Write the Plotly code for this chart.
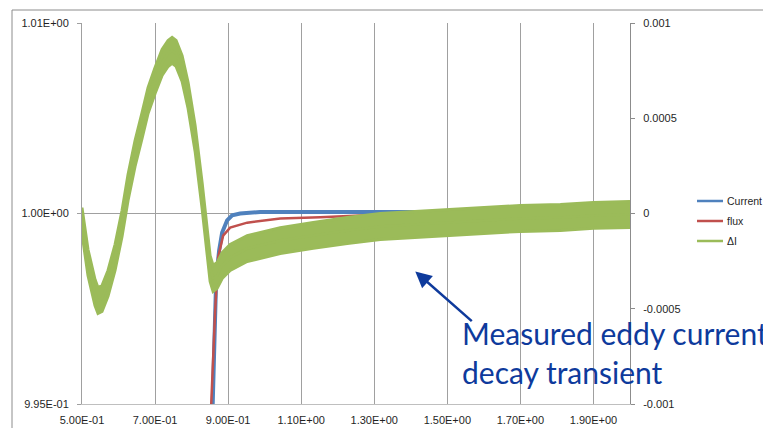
import plotly.graph_objects as go

# ---- data ----
dI_x = [0.5, 0.5164, 0.5356, 0.5438, 0.5548, 0.5712, 0.5904, 0.6096, 0.626, 0.6452,
        0.6644, 0.6808, 0.7, 0.7192, 0.7356, 0.7466, 0.7575, 0.774, 0.7904, 0.8096,
        0.8288, 0.8425, 0.8507, 0.8589, 0.8699, 0.8836, 0.9055, 0.9521, 1.0425, 1.1329,
        1.226, 1.3164, 1.4068, 1.5, 1.5904, 1.7, 1.8096, 1.9, 2.0]
dI_y = [-0.000037, -0.000257, -0.000415, -0.000457, -0.000446, -0.000367, -0.000231, -0.000052,
        0.000136, 0.000315, 0.000462, 0.000593, 0.000698, 0.000793, 0.00084, 0.000856, 0.00084,
        0.000761, 0.000619, 0.000394, 0.000094, -0.000157, -0.000289, -0.000341, -0.000325,
        -0.000273, -0.000231, -0.000184, -0.000142, -0.000115, -0.000089, -0.000068, -0.000058,
        -0.000047, -0.000037, -0.000026, -0.000021, -0.00001, -0.000005]
dI_noise = 0.000068  # half-width of the noisy band

cur_x = [0.852, 0.8562, 0.8616, 0.8671, 0.8753, 0.8836, 0.8973, 0.911, 0.9329, 0.9877, 1.3, 1.6, 2.0]
cur_y = [0.9930, 0.99457, 0.99693, 0.99824, 0.99903, 0.9995, 0.99982, 0.99995, 1.0, 1.00004,
         1.00004, 1.00004, 1.00004]

flux_x = [0.8507, 0.8534, 0.8589, 0.8644, 0.8726, 0.8863, 0.9055, 0.9521, 1.0425, 1.152,
          1.2616, 1.3712, 1.5082, 2.0]
flux_y = [0.9943, 0.99499, 0.99614, 0.99745, 0.99885, 0.99942, 0.99963, 0.99976, 0.99987,
          0.9999, 0.99995, 0.99997, 1.0, 1.0]

x_ticks = [0.5, 0.7, 0.9, 1.1, 1.3, 1.5, 1.7, 1.9]
x_ticktext = ["5.00E-01", "7.00E-01", "9.00E-01", "1.10E+00", "1.30E+00", "1.50E+00", "1.70E+00", "1.90E+00"]
y_ticks = [0.995, 1.0, 1.005]
y_ticktext = ["9.95E-01", "1.00E+00", "1.01E+00"]
y2_ticks = [-0.001, -0.0005, 0, 0.0005, 0.001]
y2_ticktext = ["-0.001", "-0.0005", "0", "0.0005", "0.001"]

legend_names = ["Current", "flux", "ΔI"]

BLUE = "#4F81BD"
RED = "#C0504D"
GREEN = "#9BBB59"
TXT = "#1F1F1F"
ANN = "#0E3A9C"
FONT = "Liberation Sans"
legend_colors = [BLUE, RED, GREEN]

fig = go.Figure()
fig.add_trace(go.Scatter(x=cur_x, y=cur_y, mode="lines", name="Current",
                         line=dict(color=BLUE, width=4), yaxis="y"))
fig.add_trace(go.Scatter(x=flux_x, y=flux_y, mode="lines", name="flux",
                         line=dict(color=RED, width=2.5), yaxis="y"))
upper = [v + dI_noise for v in dI_y]
lower = [v - dI_noise for v in dI_y]
fig.add_trace(go.Scatter(x=dI_x, y=upper, mode="lines", hoverinfo="skip",
                         line=dict(color=GREEN, width=3), yaxis="y2"))
fig.add_trace(go.Scatter(x=dI_x, y=lower, mode="lines", hoverinfo="skip",
                         line=dict(color=GREEN, width=3), fill="tonexty", fillcolor=GREEN, yaxis="y2"))
fig.add_trace(go.Scatter(x=dI_x, y=dI_y, mode="lines", name="ΔI",
                         line=dict(color=GREEN, width=2.5), yaxis="y2"))

W, H = 763, 428
L, R, T, B = 82, 133, 23, 24
pw, ph = W - L - R, H - T - B


def px(xp):
    return (xp - L) / pw


def py(yp):
    return (H - B - yp) / ph


fig.update_layout(
    width=W, height=H,
    margin=dict(l=L, r=R, t=T, b=B, autoexpand=False),
    paper_bgcolor="white", plot_bgcolor="white",
    font=dict(family=FONT, size=11, color=TXT),
    showlegend=False,
    xaxis=dict(range=[0.5, 2.0], tickvals=x_ticks, ticktext=x_ticktext,
               showgrid=True, gridcolor="#A0A0A0", gridwidth=1, zeroline=False,
               showline=True, linecolor="#BFBFBF", ticks="", ticklabelstandoff=6,
               tickfont=dict(size=11, color=TXT)),
    yaxis=dict(range=[0.995, 1.005], tickvals=y_ticks, ticktext=y_ticktext,
               showgrid=True, gridcolor="#A0A0A0", gridwidth=1, zeroline=False,
               showline=True, linecolor="#A0A0A0", ticks="outside", ticklen=4,
               tickcolor="#A0A0A0", ticklabelstandoff=6, tickfont=dict(size=11, color=TXT)),
    yaxis2=dict(range=[-0.001, 0.001], tickvals=y2_ticks, ticktext=y2_ticktext,
                overlaying="y", side="right", showgrid=False, zeroline=False,
                showline=True, linecolor="#8C8C8C", ticks="outside", ticklen=4,
                tickcolor="#8C8C8C", ticklabelstandoff=6, tickfont=dict(size=11, color=TXT)),
)

# outer chart border
fig.add_shape(type="rect", xref="paper", yref="paper",
              x0=px(12), x1=px(790), y0=py(460), y1=py(10),
              line=dict(color="#8C8C8C", width=1), fillcolor="rgba(0,0,0,0)", layer="below")

# manual legend (reference legend runs off the right edge)
for i, (name, col) in enumerate(zip(legend_names, legend_colors)):
    yy = 201 + 20 * i
    fig.add_shape(type="line", xref="paper", yref="paper", x0=px(697), x1=px(723),
                  y0=py(yy), y1=py(yy), line=dict(color=col, width=2.5))
    fig.add_annotation(xref="paper", yref="paper", x=px(725), y=py(yy), text=name,
                       xanchor="left", yanchor="middle", showarrow=False,
                       font=dict(size=10.5, color=TXT))

# annotation arrow and text
fig.add_annotation(x=1.4123, y=0.998478, xref="x", yref="y", text="", showarrow=True,
                   ax=58, ay=51, arrowhead=2, arrowsize=1.3, arrowwidth=2.5, arrowcolor=ANN)
fig.add_annotation(x=1.536, y=0.99635, xref="x", yref="y", xanchor="left", yanchor="middle",
                   align="left", showarrow=False,
                   text="Measured eddy current<br>decay transient",
                   font=dict(family="Lato", size=30, color=ANN))

fig.write_html("out.html")
